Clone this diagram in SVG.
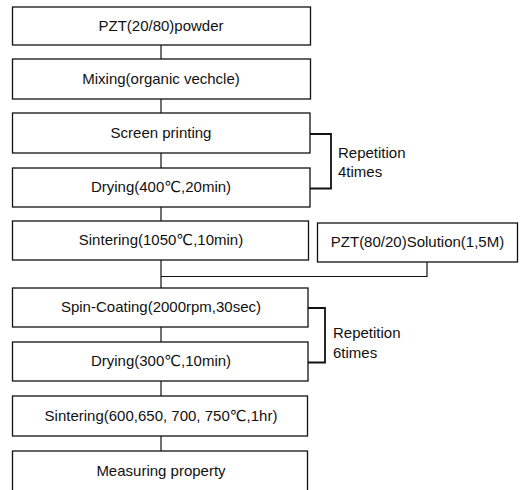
<svg xmlns="http://www.w3.org/2000/svg" width="520" height="490" viewBox="0 0 520 490">
<style>
.box{fill:#fff;stroke:#111;stroke-width:1.3}
.lbl{font-family:"Liberation Sans",Arial,"DejaVu Sans",sans-serif;font-size:15px;fill:#111;text-anchor:middle}
.rep{font-family:"Liberation Sans",Arial,"DejaVu Sans",sans-serif;font-size:15px;fill:#111}
.ln{fill:none;stroke:#111;stroke-width:1.2}
.br{fill:none;stroke:#111;stroke-width:1.8}
</style>
<rect width="520" height="490" fill="#fff"/>
<g id="connectors">
<line class="ln" x1="161" y1="45" x2="161" y2="59"/>
<line class="ln" x1="161" y1="99" x2="161" y2="113"/>
<line class="ln" x1="161" y1="153" x2="161" y2="168"/>
<line class="ln" x1="161" y1="207" x2="161" y2="221"/>
<line class="ln" x1="161" y1="260" x2="161" y2="288"/>
<polyline class="ln" points="161,276.5 427,276.5 427,262"/>
<line class="ln" x1="161" y1="327" x2="161" y2="342"/>
<line class="ln" x1="161" y1="381" x2="161" y2="396"/>
<line class="ln" x1="161" y1="436" x2="161" y2="451"/>
<polyline class="br" points="310,134 331,134 331,188.5 310,188.5"/>
<polyline class="br" points="308,308 325,308 325,362.5 308,362.5"/>
</g>
<g id="n1"><rect class="box" x="12.5" y="7" width="298" height="38"/><text class="lbl" x="161" y="31">PZT(20/80)powder</text></g>
<g id="n2"><rect class="box" x="12.5" y="59" width="298" height="40"/><text class="lbl" x="161" y="84">Mixing(organic vechcle)</text></g>
<g id="n3"><rect class="box" x="12.5" y="113" width="297.5" height="40"/><text class="lbl" x="161" y="138">Screen printing</text></g>
<g id="n4"><rect class="box" x="12.5" y="168" width="297.5" height="39"/><text class="lbl" x="161" y="192">Drying(400℃,20min)</text></g>
<g id="n5"><rect class="box" x="12.5" y="221" width="296" height="39"/><text class="lbl" x="161" y="245">Sintering(1050℃,10min)</text></g>
<g id="n6"><rect class="box" x="317.5" y="223" width="200" height="39"/><text class="lbl" x="417.5" y="247">PZT(80/20)Solution(1,5M)</text></g>
<g id="n7"><rect class="box" x="12.5" y="288" width="295.5" height="39"/><text class="lbl" x="161" y="312">Spin-Coating(2000rpm,30sec)</text></g>
<g id="n8"><rect class="box" x="12.5" y="342" width="295.5" height="39"/><text class="lbl" x="161" y="366">Drying(300℃,10min)</text></g>
<g id="n9"><rect class="box" x="12.5" y="396" width="295" height="40"/><text class="lbl" x="161" y="421">Sintering(600,650, 700, 750℃,1hr)</text></g>
<g id="n10"><rect class="box" x="12.5" y="451" width="295" height="42"/><text class="lbl" x="161" y="476">Measuring property</text></g>
<g id="rep1"><text class="rep" x="338" y="158">Repetition</text><text class="rep" x="338" y="177">4times</text></g>
<g id="rep2"><text class="rep" x="333" y="338">Repetition</text><text class="rep" x="333" y="358">6times</text></g>
</svg>
